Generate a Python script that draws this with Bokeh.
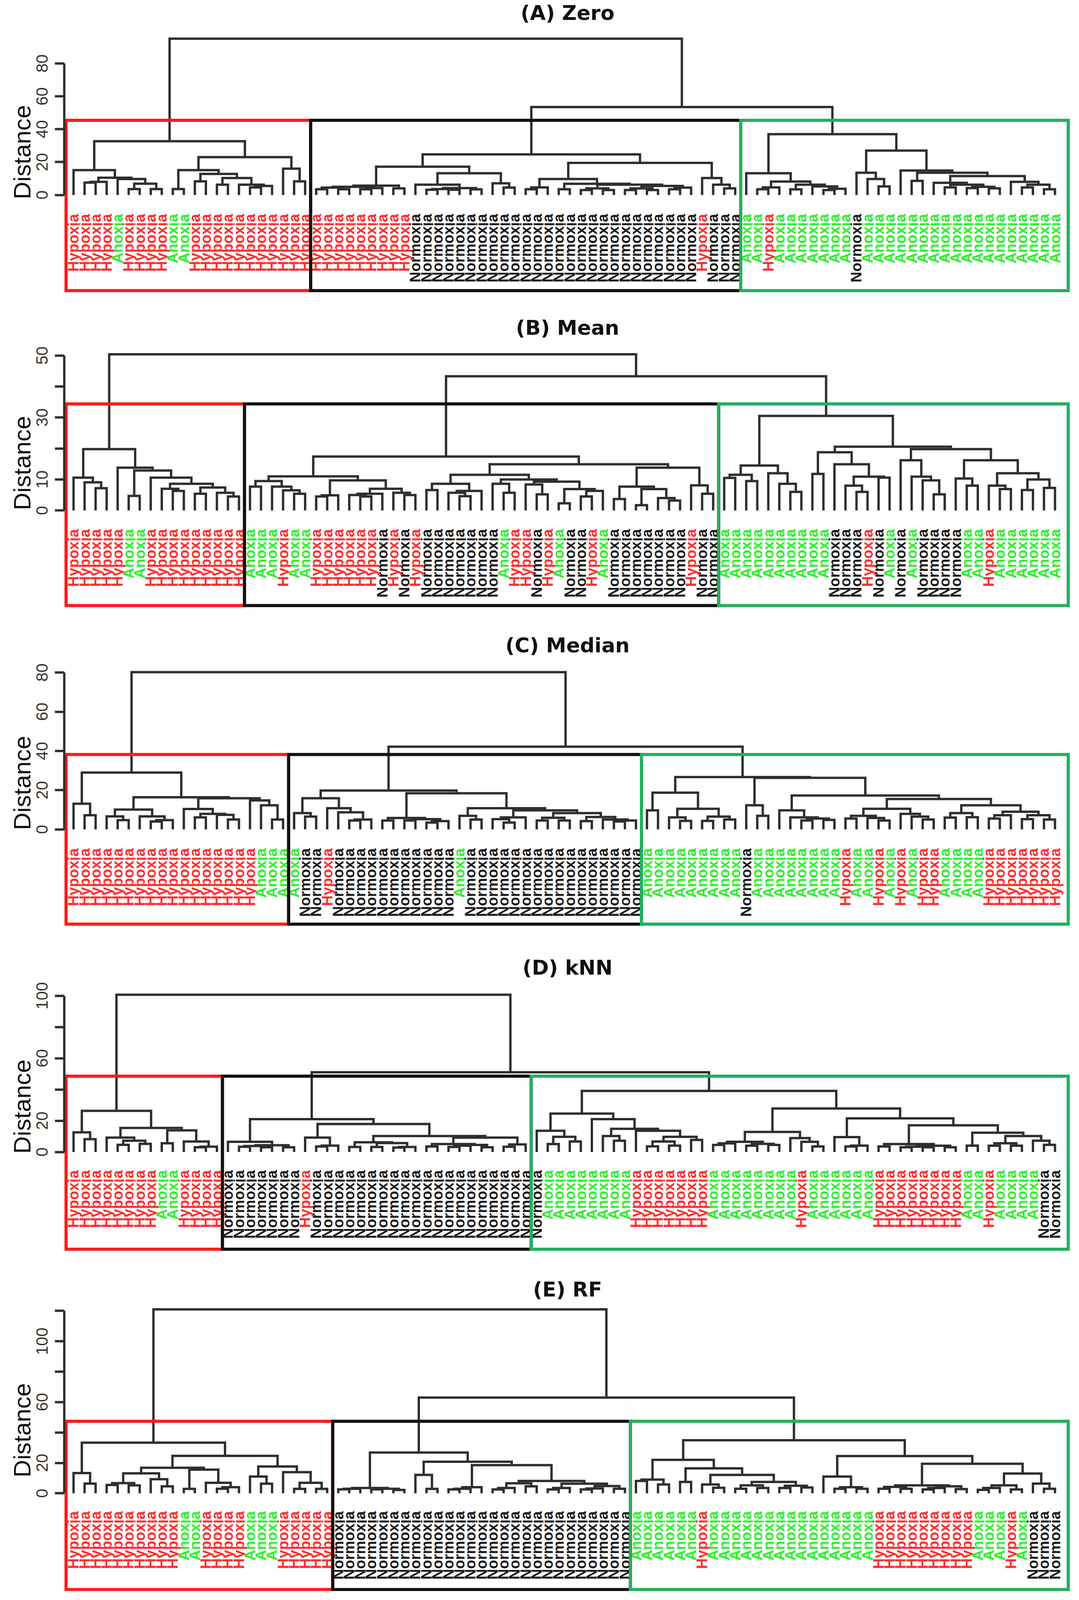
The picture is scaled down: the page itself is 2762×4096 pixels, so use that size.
import math
from bokeh.plotting import figure
from bokeh.models import LinearAxis, FixedTicker, Range1d, Title, ColumnDataSource
from bokeh.layouts import column
from bokeh.embed import file_html
from bokeh.resources import INLINE
from bokeh.core.properties import value

# ======================= data =======================
TITLES = ["(A) Zero", "(B) Mean", "(C) Median", "(D) kNN", "(E) RF"]
CLASS_NAMES = {"H": "Hypoxia", "A": "Anoxia", "N": "Normoxia"}

# leaf classes from left to right, run-length coded
RUNS_A = [("H", 4), ("A", 1), ("H", 4), ("A", 2), ("H", 11), ("H", 9), ("N", 26), ("H", 1), ("N", 3),
          ("A", 2), ("H", 1), ("A", 7), ("N", 1), ("A", 18)]
RUNS_B = [("H", 5), ("A", 2), ("H", 9), ("A", 3), ("H", 1), ("A", 2), ("H", 6), ("N", 1), ("H", 1), ("N", 1),
          ("H", 1), ("N", 7), ("A", 1), ("H", 2), ("N", 1), ("H", 1), ("A", 1), ("N", 2), ("H", 1), ("A", 1),
          ("N", 7), ("H", 1), ("N", 2), ("A", 10), ("N", 3), ("H", 1), ("N", 1), ("A", 1), ("N", 1), ("A", 1),
          ("N", 4), ("A", 2), ("H", 1), ("A", 6)]
RUNS_C = [("H", 17), ("A", 3), ("A", 1), ("N", 2), ("H", 1), ("N", 11), ("A", 1), ("N", 16), ("A", 9), ("N", 1),
          ("A", 8), ("H", 1), ("A", 2), ("H", 1), ("A", 1), ("H", 1), ("A", 1), ("H", 2), ("A", 4), ("H", 7)]
RUNS_D = [("H", 8), ("A", 2), ("H", 4), ("N", 7), ("H", 1), ("N", 20), ("N", 1), ("A", 8), ("H", 7), ("A", 8),
          ("H", 1), ("A", 6), ("H", 8), ("A", 2), ("H", 1), ("A", 4), ("N", 2)]
RUNS_E = [("H", 10), ("A", 2), ("H", 4), ("A", 3), ("H", 5), ("N", 27), ("A", 6), ("H", 1), ("A", 15), ("H", 9),
          ("A", 3), ("H", 1), ("A", 1), ("N", 3)]

# number of leaves in the three boxed clusters (red, black, green)
CLUSTERS_A = [22, 39, 29]
CLUSTERS_B = [16, 43, 31]
CLUSTERS_C = [20, 32, 38]
CLUSTERS_D = [14, 28, 48]
CLUSTERS_E = [24, 27, 39]

# dendrogram of each cluster: "(left,right)height", "." is a leaf
TREE_A_RED = ("((.,(((.,.)7.5,.)8,(.,((.,.)3.6,(.,.)3.6)6.9)9.7)10.5)15.1,"
              "(((.,.)3.6,((.,.)8.3,((.,.)6.3,(.,((.,.)4.6,.)5.5)6.3)10.3)12.8)15.1,(.,(.,.)8.3)16)23)32.7")
TREE_A_BLACK = ("((((((.,.)3.5,(.,.)3.5)4.5,((.,.)3.5,.)4.2)5.0,(.,.)4.0)5.7,"
                "((.,(((.,.)3.2,(.,.)3.2)3.6,(.,.)3.4)4.2)6.3,(.,(.,.)4.5)7.1)13.2)17.2,"
                "((((.,.)3.5,.)4.6,((.,.)3.5,(((.,.)3,(.,.)3)4,(((.,.)3,(.,.)3)4,((.,.)3.5,.)4.5)5.5)6.3)6.8)9.7,"
                "(.,(.,(.,.)4)6.3)10.3)19.5)24.7")
TREE_A_GREEN = ("((.,(((.,.)3.5,.)4.6,((.,.)3.4,(.,((.,.)3,.)3.8)5.2)6.3)8.2)13.2,"
                "((.,(.,(.,.)5.2)9.7)13.5,"
                "(.,((.,.)8.6,((.,((.,.)4.6,((.,.)4.2,(.,.)4.0)5.0)6.3)7.4,(.,((.,.)4.6,(.,.)3.5)6.3)8.0)11.5)13.5)14.9)27)37")

TREE_B_RED = ("((.,(.,(.,.)7.2)9.1)10.6,"
              "(.,((.,.)4.7,(.,((.,(.,.)6.3)7.0,((.,.)5.4,(.,(.,.)4.5)5.7)7.4)8.6)10.6)12.9)13.8)19.8")
TREE_B_BLACK = ("((((.,.)7.7,(.,(.,(.,.)5.4)6.5)7.7)9.5,(((.,.)4.5,.)4.9,(((.,(.,.)4.5)5.0,.)5.4,(.,(.,.)5)5.7)7.0)9.7)11,"
                "((((.,.)6.6,((.,(.,.)4.6)5.7,.)6.3)8.6,((.,(.,.)5.7)8.6,((.,(.,.)5.2)8.4,((.,.)2.3,((.,.)4.5,.)6.3)6.9)9.3)10)11.5,"
                "(((.,.)3.7,((.,.)1.7,(.,(.,.)3.2)4)6.9)7.7,(.,(.,.)5.4)8.1)13.8)14.9)17.4")
TREE_B_GREEN = ("((((.,.)10.5,(.,.)9.5)11.5,(.,(.,(.,.)6)8.6)12)14.5,"
                "(((.,.)11.8,(.,((.,(.,.)6)8,(.,.)10.6)10.9)14.9)18.8,"
                "((.,(.,(.,(.,.)5.2)9.7)10.9)16.2,((.,(.,.)8)10.3,((.,(.,.)6.9)8,((.,.)6.6,(.,.)7.3)10)12)16.2)19.8)20.6)30.5")

TREE_C_RED = ("((.,(.,.)7.2)13.1,(((.,(.,.)4.7)6.6,(.,((.,.)4.0,.)4.7)6.6)10.1,"
              "((.,((.,.)6.1,(.,(.,.)5)7.4)7.9)10.4,(.,(.,(.,.)5)12.3)14.8)15.9)16.4)29.0")
TREE_C_BLACK = ("(((.,(.,.)6.5)8.3,(.,(.,((.,.)4.5,.)5)8.7)10.8)15.9,"
                "(((.,.)4.5,((.,.)4.5,((.,.)3.5,.)4.2)5.2)5.8,"
                "((.,(.,.)5)6.9,(((.,(.,.)3.5)5.2,.)6.1,(((.,.)4.5,(.,.)4.5)5.9,((.,.)4.2,(.,((.,.)4.0,.)4.5)5.0)6.3)8.3)9.7)10.8)18.4)19.8")
TREE_C_GREEN = ("(((.,.)9.7,((.,(.,.)4.3)6.1,((.,.)4.3,(.,.)5)6.5)10.5)18.7,"
                "((.,(.,.)6.9)12.3,"
                "((.,(.,((.,.)4.5,(.,.)4.8)5.5)6.1)9.7,"
                "((((.,.)5.5,(.,(.,.)4.5)5.8)6.9,(.,(.,(.,.)5)6.5)7.9)10.5,"
                "(((.,.)6,(.,.)6.2)8.3,(((.,.)5.5,.)7.2,((.,.)5.2,(.,.)5)7.2)9)12.3)15.5)17.3)26.3)26.7")

TREE_D_RED = ("((.,(.,.)8.2)12.6,((.,((.,.)4.6,(.,.)5.2)7.2)9.2,((.,.)5.6,(.,((.,.)3,.)3.4)6.7)13.8)15.4)26.3")
TREE_D_BLACK = ("((.,(((.,.)3.3,(.,.)3.0)3.8,(.,.)3.0)4.3)6.5,"
                "((.,((.,.)3.5,.)4.1)9.2,"
                "(((.,.)3.2,((.,.)3.2,((.,.)2.8,.)3.2)5.7)6.2,"
                "(((.,.)3.5,(((.,.)3.2,.)4,(.,.)3)4.5)5.1,((.,.)3.3,.)4.8)9.2)10.2)17.9)21.0")
TREE_D_GREEN = ("(((.,((.,.)5.1,(.,.)6.7)9.7)13.6,(.,((.,(.,.)7.2)10.2,(.,(((.,.)3.6,(.,.)4.1)6.7,(.,.)7.7)9.7)13.6)14.8)21)24.6,"
                "(((((.,.)4.5,.)5.5,((.,.)4,(.,.)4.5)5.2)6.5,(.,(.,(.,.)3.5)6.5)8.9)12.8,"
                "((.,((.,.)3.5,.)4.1)9.5,"
                "(((.,.)3.5,(((.,.)3,(.,.)3)3.4,(.,.)3)4)5.1,"
                "((.,.)4.1,(((.,.)4,(.,.)4)5.6,(.,(.,.)4.6)7.2)10.2)12.3)17.1)21.5)27.8)39.1")

TREE_E_RED = ("((.,(.,.)6.4)13.3,"
              "(((((.,.)5.5,(.,.)5.2)6.7,(.,(.,.)4.6)9.3)13.1,((.,.)2.9,(.,((.,.)3,.)4)6.9)15.6)16.8,"
              "((.,(.,.)6.3)11,(.,((.,.)2.9,(.,.)2.9)6.9)13.9)17.6)24.6)33.3")
TREE_E_BLACK = ("((((.,.)2.6,.)3.0,((.,.)2.6,(.,.)2.2)3.0)3.5,"
                "((.,(.,.)2.9)12.1,"
                "((((.,.)2.5,.)3,.)4,"
                "((((.,.)2.5,.)3.5,(.,.)4.6)6.6,(((.,.)2.5,.)3.5,(((.,.)2.5,.)3.2,(.,.)3.0)4.8)6.3)8.1)18.5)20.8)26.8")
TREE_E_GREEN = ("((((.,.)8.1,(.,.)5.8)9,((.,.)7.5,((.,(.,.)3.6)5.8,(((.,.)3,(.,.)3.5)5.2,((.,.)3.5,(.,.)3.8)5)7.5)12.1)16.4)22,"
                "((.,((.,.)3,(.,.)3)4)11,"
                "((((.,.)3,(.,.)3)4.2,(((.,.)2.5,.)3.5,(.,.)2.8)4.6)5.2,"
                "((((.,.)2.3,.)3.5,(.,.)2.5)5.2,(.,(.,.)3)6.4)13)19.4)24.5)34.9")

# heights of the two top merges: (black+green, root)
MERGES_A = [53.5, 95.1]
MERGES_B = [43.3, 50.4]
MERGES_C = [42.2, 80.2]
MERGES_D = [51.0, 100.7]
MERGES_E = [63.0, 121.0]

# height at which the three boxes are cut
CUTS = [45.4, 34.4, 38.2, 48.5, 47.4]

TICKS_A = [0, 20, 40, 60, 80]
TICK_LABELS_A = ["0", "20", "40", "60", "80"]
TICKS_B = [0, 10, 20, 30, 40, 50]
TICK_LABELS_B = ["0", "10", "", "30", "", "50"]
TICKS_C = [0, 20, 40, 60, 80]
TICK_LABELS_C = ["0", "20", "40", "60", "80"]
TICKS_D = [0, 20, 40, 60, 80, 100]
TICK_LABELS_D = ["0", "20", "", "60", "", "100"]
TICKS_E = [0, 20, 40, 60, 80, 100, 120]
TICK_LABELS_E = ["0", "20", "", "60", "", "100", ""]

PANELS = [
    dict(runs=RUNS_A, clusters=CLUSTERS_A, trees=(TREE_A_RED, TREE_A_BLACK, TREE_A_GREEN), merges=MERGES_A,
         ticks=TICKS_A, tick_labels=TICK_LABELS_A),
    dict(runs=RUNS_B, clusters=CLUSTERS_B, trees=(TREE_B_RED, TREE_B_BLACK, TREE_B_GREEN), merges=MERGES_B,
         ticks=TICKS_B, tick_labels=TICK_LABELS_B),
    dict(runs=RUNS_C, clusters=CLUSTERS_C, trees=(TREE_C_RED, TREE_C_BLACK, TREE_C_GREEN), merges=MERGES_C,
         ticks=TICKS_C, tick_labels=TICK_LABELS_C),
    dict(runs=RUNS_D, clusters=CLUSTERS_D, trees=(TREE_D_RED, TREE_D_BLACK, TREE_D_GREEN), merges=MERGES_D,
         ticks=TICKS_D, tick_labels=TICK_LABELS_D),
    dict(runs=RUNS_E, clusters=CLUSTERS_E, trees=(TREE_E_RED, TREE_E_BLACK, TREE_E_GREEN), merges=MERGES_E,
         ticks=TICKS_E, tick_labels=TICK_LABELS_E),
]

# ======================= layout / style (reference pixels) =======================
S = 0.915                      # page px per reference px
REF_W = 3001
LEAF0 = 205.0                  # ref x of first leaf
LEAF_DX = 30.85                # ref spacing of leaves
AXIS_X = 179.0                 # ref x of y-axis line
TITLE_X = 1587.0
# per panel: top, bottom, zero-line y, px per unit, label gap below 0, box bottom, title y
GEOM = [
    (0, 850, 545.0, 4.6, 53, 812.5, 36),
    (850, 1740, 1427.4, 8.67, 52, 1693.5, 916),
    (1740, 2640, 2320.0, 5.485, 53, 2585, 1805),
    (2640, 3550, 3222.0, 4.37, 51, 3494, 2706),
    (3550, 4451, 4176.6, 4.253, 50, 4446, 3606),
]
LINE = "#2e2e2e"
BOX_COLORS = ["#ff1a1a", "#111111", "#22b05e"]
TEXT_COLORS = {"H": "#ff2e2e", "A": "#2ef02e", "N": "#1a1a1a"}


def parse_tree(s):
    pos = 0

    def node():
        nonlocal pos
        c = s[pos]
        if c == ".":
            pos += 1
            return None
        if c != "(":
            raise ValueError("bad tree near %d: %r" % (pos, s[pos:pos + 25]))
        pos += 1
        left = node()
        if s[pos] != ",":
            raise ValueError("expected , near %d: %r" % (pos, s[pos:pos + 25]))
        pos += 1
        right = node()
        if s[pos] != ")":
            raise ValueError("expected ) near %d: %r" % (pos, s[pos:pos + 25]))
        pos += 1
        j = pos
        while j < len(s) and (s[j].isdigit() or s[j] == "."):
            j += 1
        h = float(s[pos:j])
        pos = j
        return (h, left, right)

    t = node()
    if pos != len(s):
        raise ValueError("trailing text %r" % s[pos:])
    return t


def count_leaves(t):
    if t is None:
        return 1
    return count_leaves(t[1]) + count_leaves(t[2])


def build_lines(t, counter, xs, ys):
    if t is None:
        counter[0] += 1
        return float(counter[0]), 0.0
    h, l, r = t
    xl, hl = build_lines(l, counter, xs, ys)
    xr, hr = build_lines(r, counter, xs, ys)
    xs.append([xl, xl, xr, xr])
    ys.append([hl, h, h, hr])
    return (xl + xr) / 2.0, h


W = round(REF_W * S)
ML = round(AXIS_X * S)
x_start = 1 + (AXIS_X - LEAF0) / LEAF_DX
x_end = x_start + (W - ML) / (S * LEAF_DX)


def ref_x_to_unit(px):
    return 1 + (px - LEAF0) / LEAF_DX


figs = []
for i, (panel, geom) in enumerate(zip(PANELS, GEOM)):
    top, bottom, zero, ppu, gap, box_bottom, title_y = geom
    classes = []
    for c, n in panel["runs"]:
        classes.extend([c] * n)
    subtrees = [parse_tree(s) for s in panel["trees"]]
    sizes = [count_leaves(t) for t in subtrees]
    if sizes != panel["clusters"] or len(classes) != sum(sizes):
        raise ValueError("panel %d: tree sizes %s, clusters %s, labels %d" %
                         (i, sizes, panel["clusters"], len(classes)))
    h_join, h_root = panel["merges"]
    tree = (h_root, subtrees[0], (h_join, subtrees[1], subtrees[2]))

    H = round((bottom - top) * S)
    y_end = (zero - top) / ppu
    y_start = y_end - H / (S * ppu)

    p = figure(width=W, height=H, x_range=Range1d(x_start, x_end), y_range=Range1d(y_start, y_end),
               output_backend="svg", toolbar_location=None, x_axis_location=None, y_axis_location=None,
               min_border_left=ML, min_border_right=0, min_border_top=0, min_border_bottom=0,
               background_fill_color="white", border_fill_color="white")
    p.outline_line_color = None
    p.grid.visible = False

    # dendrogram
    xs, ys = [], []
    build_lines(tree, [0], xs, ys)
    p.multi_line(xs="xs", ys="ys", source=ColumnDataSource(dict(xs=xs, ys=ys)),
                 line_color=LINE, line_width=6, line_join="miter", line_cap="butt")

    # leaf labels
    n = len(classes)
    lab_y = -gap / ppu
    src = ColumnDataSource(dict(x=[float(k + 1) for k in range(n)], y=[lab_y] * n,
                                text=[CLASS_NAMES[c] for c in classes],
                                color=[TEXT_COLORS[c] for c in classes]))
    p.text(x="x", y="y", text="text", text_color="color", source=src, angle=math.pi / 2,
           text_align="right", text_baseline="middle",
           text_font=value("Liberation Sans"), text_font_style="bold", text_font_size=value("38px"))

    # cluster boxes
    cum = [0, sizes[0], sizes[0] + sizes[1], n]
    lefts = [0.32, cum[1] + 0.5, cum[2] + 0.5]
    rights = [cum[1] + 0.5, cum[2] + 0.5, n + 1.2]
    bb = (zero - box_bottom) / ppu
    for k in range(3):
        p.quad(left=[lefts[k]], right=[rights[k]], bottom=[bb], top=[CUTS[i]],
               fill_color=None, line_color=BOX_COLORS[k], line_width=8, line_join="miter")

    # title
    p.text(x=[ref_x_to_unit(TITLE_X)], y=[(zero - title_y) / ppu], text=[TITLES[i]],
           text_align="center", text_baseline="middle", text_color="#111111",
           text_font=value("DejaVu Sans"), text_font_style="bold", text_font_size=value("52px"))

    # y axis
    ticks = panel["ticks"]
    ax = LinearAxis(ticker=FixedTicker(ticks=ticks), bounds=(0, ticks[-1]))
    ax.major_label_overrides = {t: lab for t, lab in zip(ticks, panel["tick_labels"])}
    ax.axis_line_width = 6
    ax.axis_line_color = LINE
    ax.major_tick_line_width = 6
    ax.major_tick_line_color = LINE
    ax.major_tick_out = round(26 * S)
    ax.major_tick_in = 0
    ax.minor_tick_line_color = None
    ax.major_label_orientation = "vertical"
    ax.major_label_text_font = "Liberation Sans"
    ax.major_label_text_font_size = "42px"
    ax.major_label_text_color = "#333333"
    ax.major_label_standoff = 18
    p.add_layout(ax, "left")

    # "Distance" label, centred on the axis span
    frame_mid = (top + bottom) / 2.0
    axis_mid = zero - (ticks[-1] / 2.0) * ppu
    ylab = Title(text="Distance", align="center", offset=(frame_mid - axis_mid) * S, standoff=0,
                 text_font="Liberation Sans", text_font_style="normal", text_font_size="62px",
                 text_color="#111111")
    p.add_layout(ylab, "left")
    figs.append(p)

layout = column(*figs, spacing=0)
open("out.html", "w").write(file_html(layout, INLINE, title="Hierarchical clustering dendrograms"))
